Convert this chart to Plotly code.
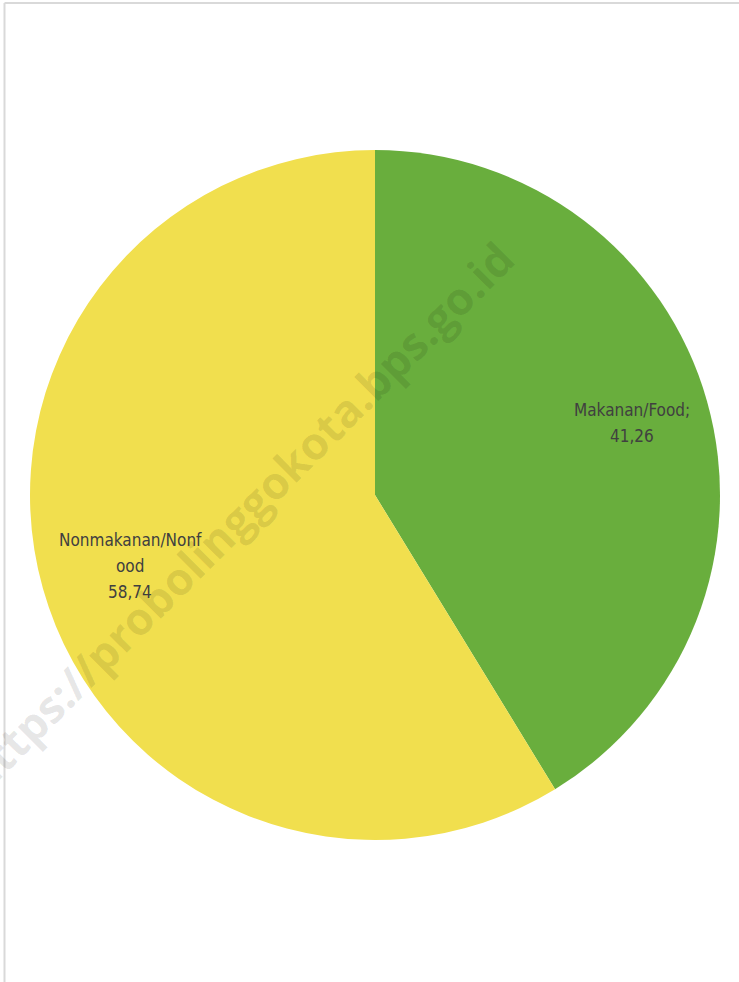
import plotly.graph_objects as go

W, H = 739, 982

categories = ["Makanan/Food", "Nonmakanan/Nonfood"]
values = [41.26, 58.74]
colors = ["#69AE3D", "#F1DF4E"]
label_lines = [["Makanan/Food;", "41,26"], ["Nonmakanan/Nonf", "ood", "58,74"]]
watermark = "https://probolinggokota.bps.go.id"

def px_x(x):
    return x / W

def px_y(y):
    return 1 - y / H

fig = go.Figure()
fig.add_trace(go.Pie(
    labels=categories,
    values=values,
    marker=dict(colors=colors, line=dict(width=0)),
    sort=False,
    direction="clockwise",
    rotation=0,
    textinfo="none",
    hoverinfo="label+value",
    showlegend=False,
    domain=dict(x=[px_x(30), px_x(720)], y=[px_y(841), px_y(149)]),
))

font_lbl = dict(family="Liberation Sans Narrow, DejaVu Sans Condensed, Arial Narrow, sans-serif",
                size=17, color="#404040")

# label anchor: center x, first-line center y; line step 26 px
label_pos = [(632, 410), (130, 540)]
LINE = 26
for lines, (x, y) in zip(label_lines, label_pos):
    for i, ln in enumerate(lines):
        fig.add_annotation(x=px_x(x), y=px_y(y + i * LINE), xref="paper", yref="paper",
                           text=ln, showarrow=False, font=font_lbl, align="center",
                           xanchor="center", yanchor="middle")

# watermark
fig.add_annotation(x=px_x(238), y=px_y(516), xref="paper", yref="paper",
                   text=watermark, showarrow=False, textangle=-45,
                   font=dict(family="Open Sans, Lato, sans-serif", size=45, weight=700,
                             color="rgba(0,0,0,0.1)"),
                   xanchor="center", yanchor="middle")

# frame lines (top and left visible)
fig.add_shape(type="line", xref="paper", yref="paper",
              x0=px_x(4.5), x1=1.0, y0=px_y(3), y1=px_y(3),
              line=dict(color="#d9d9d9", width=2))
fig.add_shape(type="line", xref="paper", yref="paper",
              x0=px_x(4.5), x1=px_x(4.5), y0=px_y(3), y1=0.0,
              line=dict(color="#d9d9d9", width=2))

fig.update_layout(
    width=W, height=H,
    margin=dict(l=0, r=0, t=0, b=0),
    paper_bgcolor="white",
    plot_bgcolor="white",
)

fig.write_html("out.html", config={"displayModeBar": False},
               post_script="document.body.style.margin='0px';")
